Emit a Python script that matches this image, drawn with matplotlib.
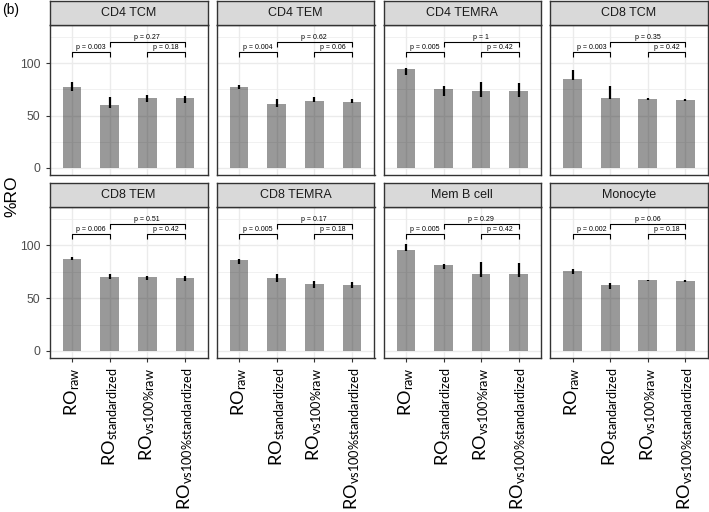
import matplotlib
matplotlib.use("Agg")
import matplotlib.pyplot as plt

plt.rcParams['font.family'] = ['Liberation Sans', 'DejaVu Sans']
plt.rcParams['mathtext.fontset'] = 'custom'
plt.rcParams['mathtext.rm'] = 'Lato'
plt.rcParams['mathtext.it'] = 'Lato:italic'
plt.rcParams['mathtext.bf'] = 'Lato:bold'

W, H = 709, 512

# ---- data ----
panels = ['CD4 TCM', 'CD4 TEM', 'CD4 TEMRA', 'CD8 TCM',
          'CD8 TEM', 'CD8 TEMRA', 'Mem B cell', 'Monocyte']
methods = [r'RO$_{\mathrm{raw}}$', r'RO$_{\mathrm{standardized}}$',
           r'RO$_{\mathrm{vs100\%raw}}$', r'RO$_{\mathrm{vs100\%standardized}}$']
means = [
    [77, 60, 67, 67],
    [77, 61, 64, 63],
    [94, 75, 73, 73],
    [85, 67, 66, 65],
    [87, 70, 70, 69],
    [86, 69, 63, 62],
    [96, 81, 73, 73],
    [76, 62, 67, 66],
]
err_lo = [
    [73, 57, 63, 62],
    [75, 58.5, 62.5, 61.5],
    [89, 69, 67.5, 68],
    [83.5, 65.5, 64.5, 63.5],
    [86.3, 68, 67, 66.5],
    [82.5, 65, 59.5, 59.5],
    [94.3, 77.5, 70, 70],
    [72.5, 59, 66.5, 65.5],
]
err_hi = [
    [82, 67.5, 70, 69],
    [79, 66, 67.5, 66],
    [95.5, 77.7, 82, 81],
    [93, 78, 67, 66],
    [88.5, 73, 71, 70.5],
    [87.5, 72.5, 66, 65],
    [101, 82.5, 84.5, 83],
    [77.5, 64, 67.5, 67],
]
p_12 = ['0.003', '0.004', '0.005', '0.003', '0.006', '0.005', '0.005', '0.002']
p_24 = ['0.27', '0.62', '1', '0.35', '0.51', '0.17', '0.29', '0.06']
p_34 = ['0.18', '0.06', '0.42', '0.42', '0.42', '0.18', '0.42', '0.18']

# ---- layout (pixel positions) ----
col_x = [(49.5, 207.5), (216.5, 374.5), (383.5, 541), (550, 708)]
row_y = [(1, 25, 175), (183, 207, 358)]   # strip top, panel top, panel bottom

GRID = '#EBEBEB'
BORDER = '#333333'


def frac(x0, y0, x1, y1):
    return [x0 / W, 1 - y1 / H, (x1 - x0) / W, (y1 - y0) / H]


def bracket(ax, x1, x2, y, tip, label):
    ax.plot([x1, x1, x2, x2], [y - tip, y, y, y - tip],
            color='black', lw=0.8, solid_capstyle='butt', zorder=4)
    ax.text((x1 + x2) / 2, y + 0.8, f'p = {label}', ha='center', va='bottom',
            fontsize=5.0, color='black', zorder=4)


fig = plt.figure(figsize=(W / 100, H / 100), dpi=100)

xs = [1, 2, 3, 4]
for i, name in enumerate(panels):
    r, c = divmod(i, 4)
    x0, x1 = col_x[c]
    st, pt, pb = row_y[r]

    ax = fig.add_axes(frac(x0, pt, x1, pb))
    ax.set_xlim(0.4, 4.6)
    ax.set_ylim(-6.7, 136.3)

    # grid
    for gy in (25, 75, 125):
        ax.axhline(gy, color=GRID, lw=0.5, zorder=0)
    for gy in (0, 50, 100):
        ax.axhline(gy, color=GRID, lw=1.0, zorder=0)
    for gx in xs:
        ax.axvline(gx, color=GRID, lw=1.0, zorder=0)

    ax.bar(xs, means[i], width=0.5, color='black', alpha=0.4,
           linewidth=0, zorder=2)
    ax.vlines(xs, err_lo[i], err_hi[i], color='black', lw=1.6, zorder=3)

    bracket(ax, 1, 2, 110.5, 4.5, p_12[i])
    bracket(ax, 2, 4, 120, 4.5, p_24[i])
    bracket(ax, 3, 4, 110.5, 4.5, p_34[i])

    for sp in ax.spines.values():
        sp.set_color(BORDER)
        sp.set_linewidth(1.0)

    ax.set_yticks([0, 50, 100])
    ax.set_xticks(xs)
    ax.tick_params(length=3, width=0.8, color=BORDER, labelcolor='#4D4D4D')
    if c == 0:
        ax.set_yticklabels(['0', '50', '100'], fontsize=8.8)
    else:
        ax.tick_params(axis='y', length=0, labelleft=False)
    if r == 1:
        ax.set_xticklabels(methods, rotation=90, fontsize=13.1,
                           fontfamily='Lato', color='black')
        ax.tick_params(axis='x', pad=4)
    else:
        ax.tick_params(axis='x', length=0, labelbottom=False)

    # strip
    sax = fig.add_axes(frac(x0, st, x1, pt))
    sax.set_facecolor('#D9D9D9')
    sax.set_xticks([])
    sax.set_yticks([])
    for sp in sax.spines.values():
        sp.set_color(BORDER)
        sp.set_linewidth(1.0)
    sax.text(0.5, 0.5, name, ha='center', va='center', fontsize=9,
             color='#1A1A1A', transform=sax.transAxes)

fig.text(12 / W, 1 - 196 / H, '%RO', rotation=90, ha='center', va='center',
         fontsize=12.5, color='black')
fig.text(2 / W, 1 - 10 / H, '(b)', ha='left', va='center', fontsize=10,
         color='black')

fig.savefig('out.png', dpi=100)
